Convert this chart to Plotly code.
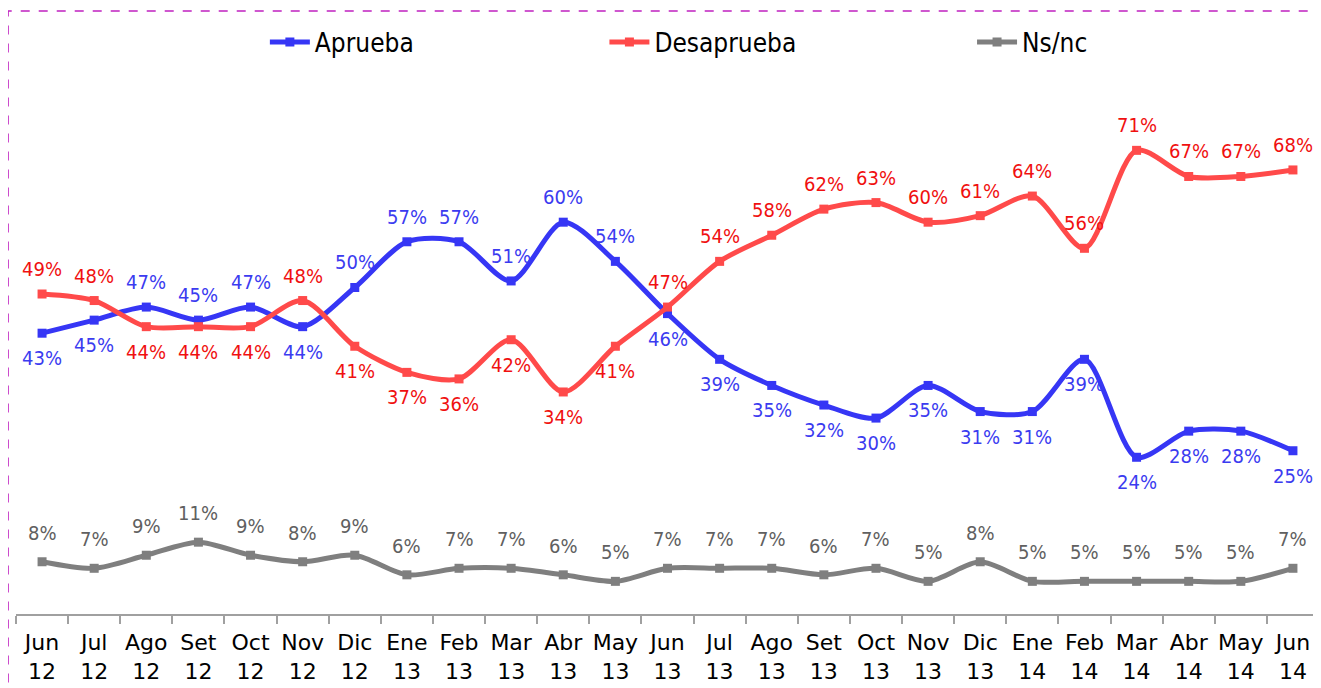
import plotly.graph_objects as go

categories = ["Jun<br>12", "Jul<br>12", "Ago<br>12", "Set<br>12", "Oct<br>12", "Nov<br>12", "Dic<br>12",
              "Ene<br>13", "Feb<br>13", "Mar<br>13", "Abr<br>13", "May<br>13", "Jun<br>13", "Jul<br>13",
              "Ago<br>13", "Set<br>13", "Oct<br>13", "Nov<br>13", "Dic<br>13", "Ene<br>14", "Feb<br>14",
              "Mar<br>14", "Abr<br>14", "May<br>14", "Jun<br>14"]
aprueba = [43, 45, 47, 45, 47, 44, 50, 57, 57, 51, 60, 54, 46, 39, 35, 32, 30, 35, 31, 31, 39, 24, 28, 28, 25]
desaprueba = [49, 48, 44, 44, 44, 48, 41, 37, 36, 42, 34, 41, 47, 54, 58, 62, 63, 60, 61, 64, 56, 71, 67, 67, 68]
nsnc = [8, 7, 9, 11, 9, 8, 9, 6, 7, 7, 6, 5, 7, 7, 7, 6, 7, 5, 8, 5, 5, 5, 5, 5, 7]

# label placement: 1 above, -1 below
aprueba_pos = [-1, -1, 1, 1, 1, -1, 1, 1, 1, 1, 1, 1, -1, -1, -1, -1, -1, -1, -1, -1, -1, -1, -1, -1, -1]
desaprueba_pos = [1, 1, -1, -1, -1, 1, -1, -1, -1, -1, -1, -1, 1, 1, 1, 1, 1, 1, 1, 1, 1, 1, 1, 1, 1]
nsnc_pos = [1] * 25

FONT = "DejaVu Sans Condensed, DejaVu Sans, sans-serif"
TICKFONT = "DejaVu Sans, sans-serif"

series = [
    ("Aprueba", aprueba, aprueba_pos, "#3636f5", "#3b3bf0", 25, "\u00a0" * 25),
    ("Desaprueba", desaprueba, desaprueba_pos, "#ff4a4a", "#f01010", 25, "\u00a0" * 23),
    ("Ns/nc", nsnc, nsnc_pos, "#7f7f7f", "#606060", 29, ""),
]

fig = go.Figure()
annotations = []
for name, vals, pos, lc, tc, off, pad in series:
    fig.add_trace(go.Scatter(
        x=categories, y=vals, name=name + pad, mode="lines+markers",
        line=dict(color=lc, width=5, shape="spline", smoothing=0.8),
        marker=dict(symbol="square", size=9, color=lc),
    ))
    for c, v, p in zip(categories, vals, pos):
        annotations.append(dict(
            x=c, y=v, xref="x", yref="y", text=f"{v}%", showarrow=False,
            yshift=off * p, font=dict(family=FONT, size=20, color=tc),
        ))

fig.update_layout(
    width=1313, height=680,
    margin=dict(l=8, r=2, t=12, b=74),
    paper_bgcolor="white", plot_bgcolor="white",
    font=dict(family=FONT, size=20, color="black"),
    showlegend=True,
    legend=dict(orientation="h", x=0.191, xanchor="left", y=0.963, yanchor="middle",
                font=dict(family=FONT, size=26, color="black"),
                bgcolor="rgba(0,0,0,0)", itemwidth=40),
    annotations=annotations,
    shapes=[dict(type="rect", xref="paper", yref="paper",
                 x0=-0.0061, x1=1.01, y0=-0.2, y1=1.015,
                 line=dict(color="#c020c0", width=1.5, dash="dash"))],
)
fig.update_xaxes(
    type="category", range=[-0.5, 24.5], showgrid=False,
    showline=True, linecolor="#a0a0a0", linewidth=1.5,
    ticks="outside", tickson="boundaries", ticklen=8, tickcolor="#a0a0a0", tickwidth=1.5,
    tickfont=dict(family=TICKFONT, size=22, color="black"), tickangle=0,
    ticklabelstandoff=8,
)
fig.update_yaxes(range=[0, 90.96], showgrid=False, showticklabels=False, zeroline=False, showline=False)

fig.write_html("out.html")
